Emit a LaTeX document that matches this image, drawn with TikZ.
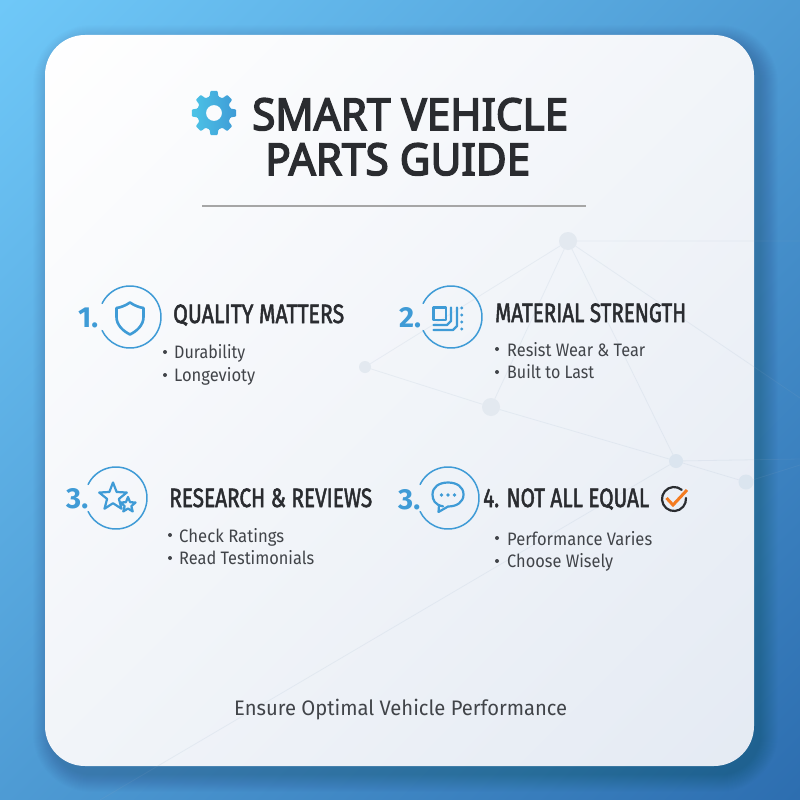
\documentclass[tikz,border=0pt]{standalone}
\usepackage{fontspec}
\usepackage{graphicx}
\setmainfont{Fira Sans}
\newfontfamily\titlefont[FakeBold=3.6]{Noto Sans}
\newfontfamily\headfont[FakeBold=2.2]{Fira Sans}
\newfontfamily\bodyfont{Fira Sans}
\definecolor{ink}{HTML}{2A2C30}
\definecolor{soft}{HTML}{414449}
\definecolor{accent}{HTML}{3F9BD6}
\definecolor{tick}{HTML}{F47B20}
\definecolor{netfill}{HTML}{E3E9F0}
\definecolor{netline}{HTML}{8FA8C2}
\definecolor{cardlow}{HTML}{E4EAF3}
\definecolor{bgA}{HTML}{6FC8F8}
\definecolor{bgB}{HTML}{4696D0}
\definecolor{bgC}{HTML}{2D6EB0}
\newcommand\fitw[2]{\resizebox{#1pt}{\height}{#2}}
\tikzset{
  x=1pt,y=-1pt,
  titletext/.style={text=ink,font=\titlefont\fontsize{44}{44}\selectfont,inner sep=0,anchor=base west},
  headtext/.style={text=ink,font=\headfont\fontsize{26.5}{26.5}\selectfont,inner sep=0,anchor=base west},
  bodytext/.style={text=soft,font=\bodyfont\fontsize{18}{18}\selectfont,inner sep=0,anchor=base west},
  numtext/.style={text=accent,font=\bodyfont\bfseries\fontsize{29}{29}\selectfont,inner sep=0,anchor=base west},
  footertext/.style={text=soft,font=\bodyfont\fontsize{21}{21}\selectfont,inner sep=0,anchor=base west},
  bullet/.style={circle,fill=soft,inner sep=0,minimum size=4pt},
  ringline/.style={draw=accent,line width=1.5pt,line cap=round},
  iconline/.style={draw=accent,line width=2.2pt,line join=round,line cap=round},
  netdot/.style={circle,fill=netfill,inner sep=0,draw=none,minimum size=#1},
  netlink/.style={draw=netline,line width=0.8pt,opacity=0.13},
}
\begin{document}
\begin{tikzpicture}
\useasboundingbox (0,0) rectangle (800,800);
% background
\begin{scope}
\clip (0,0) rectangle (800,800);
\shade[top color=bgA,middle color=bgB,bottom color=bgC,shading angle=45] (-166,-166) rectangle (966,966);
\end{scope}
% soft shadow
\foreach \g in {1,...,18}{
  \fill[black,opacity=0.009,rounded corners={40+\g}]
    ({45-\g+6},{35-\g+8}) rectangle ({754+\g+6},{766+\g+8});
}
% card
\begin{scope}
\clip[rounded corners=40] (45,35) rectangle (754,766);
\shade[top color=white,middle color=white!55!cardlow,bottom color=cardlow,shading angle=45] (-115,-115) rectangle (915,915);
\end{scope}
% faint network
\node[netdot=18pt] (na) at (568,241) {};
\node[netdot=12pt] (nb) at (365,367) {};
\node[netdot=18pt] (nc) at (491,407) {};
\node[netdot=14pt,fill=netfill!95!accent] (nd) at (676,461) {};
\node[netdot=15pt,fill=netfill!95!accent] (ne) at (746,482) {};
\coordinate (fa) at (800,241);
\coordinate (fb) at (800,398);
\coordinate (fc) at (800,459);
\coordinate (fd) at (800,465);
\coordinate (fe) at (100,800);
\path[netlink] (na) -- (fa) (na) -- (fb) (na) -- (nb) (na) -- (nc) (na) -- (nd)
  (nb) -- (nc) (nc) -- (nd) (nd) -- (ne) (nd) -- (fc) (ne) -- (fd) (nd) -- (fe);
% title
\shade[even odd rule,left color=accent!70!cyan!85!white,right color=accent,rounded corners=1pt]
  ({214+17*cos(-15)},{113+17*sin(-15)})
  \foreach \a in {0,45,...,315}{
    -- ({214+17*cos(\a-15)},{113+17*sin(\a-15)})
    -- ({214+22.5*cos(\a-9)},{113+22.5*sin(\a-9)})
    -- ({214+22.5*cos(\a+9)},{113+22.5*sin(\a+9)})
    -- ({214+17*cos(\a+15)},{113+17*sin(\a+15)})
  } -- cycle
  (214,113) circle (8);
\node[titletext] (t1) at (252,130) {\fitw{316}{SMART VEHICLE}};
\node[titletext] (t2) at (265,175) {\fitw{265}{PARTS GUIDE}};
\coordinate (rl) at (202,206);
\coordinate (rr) at (586,206);
\draw[draw=black!35,line width=1.6pt] (rl) -- (rr);
% ring 1
\node[numtext] (n1) at (78,327) {\fitw{20}{1.}};
\coordinate (c1) at (130,317);
\draw[ringline] (c1) ++(-154:31) arc[start angle=-154,end angle=154,radius=31];
\draw[iconline,line width=2.6pt] (130,302.5) .. controls (125,306) and (120,307.5) .. (116.5,308)
  -- (116.5,317) .. controls (116.5,325) and (123,331) .. (130,334.5)
  .. controls (137,331) and (143.5,325) .. (143.5,317) -- (143.5,308)
  .. controls (140,307.5) and (135,306) .. (130,302.5) -- cycle;
\node[headtext] (h1) at (173,323) {\fitw{171}{QUALITY MATTERS}};
\node[bullet] (d11) at (165,352) {};
\node[bodytext] (b11) at (174,358) {\fitw{71}{Durability}};
\node[bullet] (d12) at (165,375) {};
\node[bodytext] (b12) at (174,381) {\fitw{81}{Longevioty}};
% ring 2
\node[numtext] (n2) at (399,327) {\fitw{22}{2.}};
\coordinate (c2) at (451,317);
\draw[ringline] (c2) ++(-154:31) arc[start angle=-154,end angle=154,radius=31];
\draw[iconline] (433.5,307.5) -- (446,307.5) -- (446,320) -- (433.5,320) -- cycle;
\draw[iconline] (451,307.5) -- (451,321) -- (447,325) -- (433.5,325);
\draw[iconline] (457,307.5) -- (457,326) -- (453,330) -- (433.5,330);
\foreach \yy in {308,315,322,329}{\fill[accent] (461.7,\yy) circle (1.7);}
\node[headtext] (h2) at (495,322) {\fitw{191}{MATERIAL STRENGTH}};
\node[bullet] (d21) at (497,349) {};
\node[bodytext] (b21) at (507,356) {\fitw{138}{Resist Wear \& Tear}};
\node[bullet] (d22) at (497,372) {};
\node[bodytext] (b22) at (507,378) {\fitw{87}{Built to Last}};
% ring 3
\node[numtext] (n3) at (66,508) {\fitw{22}{3.}};
\coordinate (c3) at (116,498);
\draw[ringline] (c3) ++(-154:31) arc[start angle=-154,end angle=154,radius=31];
\draw[iconline] \foreach \a [count=\i] in {-90,-54,...,234}{
   \ifnum\i=1 ({113+14.5*cos(\a)},{497+14.5*sin(\a)}) \else -- ({113+(mod(\i,2)==1?14.5:6.2)*cos(\a)},{497+(mod(\i,2)==1?14.5:6.2)*sin(\a)}) \fi
  } -- cycle;
\draw[iconline,fill=cardlow!40!white] \foreach \a [count=\i] in {-90,-54,...,234}{
   \ifnum\i=1 ({128+8*cos(\a)},{505+8*sin(\a)}) \else -- ({128+(mod(\i,2)==1?8:3.5)*cos(\a)},{505+(mod(\i,2)==1?8:3.5)*sin(\a)}) \fi
  } -- cycle;
\node[headtext] (h3) at (169,507) {\fitw{203}{RESEARCH \& REVIEWS}};
\node[bullet] (d31) at (170,535) {};
\node[bodytext] (b31) at (179,542) {\fitw{105}{Check Ratings}};
\node[bullet] (d32) at (170,558) {};
\node[bodytext] (b32) at (179,564) {\fitw{135}{Read Testimonials}};
% ring 4
\node[numtext] (n4) at (398,509) {\fitw{22}{3.}};
\coordinate (c4) at (448,498);
\draw[ringline] (c4) ++(-154:31) arc[start angle=-154,end angle=154,radius=31];
\draw[iconline] (443,506.3) .. controls (435,505) and (432.5,500) .. (432.5,494.5)
  .. controls (432.5,487) and (439,482.5) .. (448,482.5)
  .. controls (457,482.5) and (463.5,487) .. (463.5,494.5)
  .. controls (463.5,502) and (457,506.5) .. (448,506.5)
  -- (438.5,512) -- (439,505.5);
\fill[accent] (441.5,495) circle (1.8) (448,495) circle (1.8) (454.5,495) circle (1.8);
\node[headtext] (h4) at (483,507) {\fitw{166}{4. NOT ALL EQUAL}};
\coordinate (c5) at (674,499);
\draw[draw=ink,line width=2.2pt,line cap=round] (c5) ++(-50:12) arc[start angle=-50,end angle=-365,radius=12];
\coordinate (k1) at (666.5,498);
\coordinate (k2) at (673,505);
\coordinate (k3) at (687,490);
\draw[draw=tick,line width=3pt,line join=miter] (k1) -- (k2) -- (k3);
\node[bullet] (d41) at (497,538) {};
\node[bodytext] (b41) at (507,545) {\fitw{145}{Performance Varies}};
\node[bullet] (d42) at (497,561) {};
\node[bodytext] (b42) at (507,567) {\fitw{106}{Choose Wisely}};
% footer
\node[footertext] (foot) at (234,715) {\fitw{333}{Ensure Optimal Vehicle Performance}};
\end{tikzpicture}
\end{document}
